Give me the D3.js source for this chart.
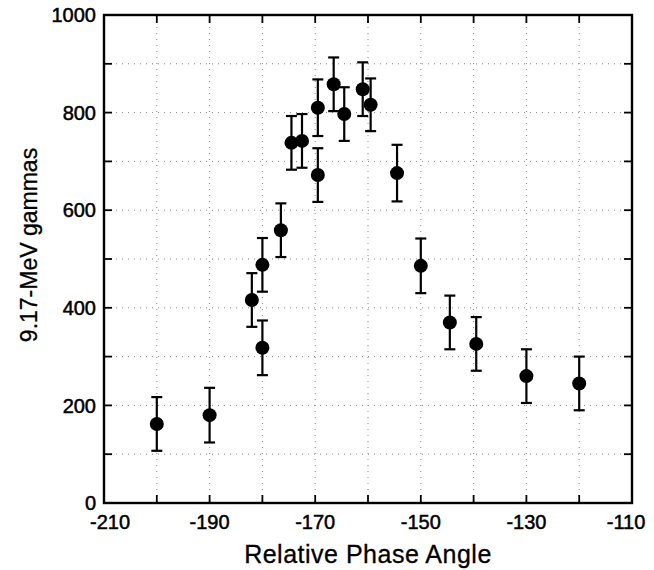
<!DOCTYPE html>
<html>
<head>
<meta charset="utf-8">
<script src="https://cdn.jsdelivr.net/npm/d3@7"></script>
<style>
  body { margin: 0; background: #fff; }
  text { font-family: "Liberation Sans", Arial, sans-serif; fill: #000; }
</style>
</head>
<body>
<svg id="chart" width="654" height="570"></svg>
<script>
// phase angle (deg), counts and error half-widths
var angle = [-200, -190, -182, -180, -180, -176.5, -174.5, -172.5, -169.5, -169.5,
             -166.5, -164.5, -161, -159.5, -154.5, -150, -144.5, -139.5, -130, -120];
var counts = [162, 180, 416, 488, 318, 559, 738, 742, 810, 672,
              858, 797, 848, 816, 676, 486, 370, 326, 260, 245];
var errors = [55, 56, 55, 55, 56, 55, 55, 55, 58, 55,
              55, 55, 55, 54, 58, 56, 55, 55, 55, 55];

var xTicks = d3.range(-210, -109, 10);
var xLabels = [-210, -190, -170, -150, -130, -110];
var yTicks = d3.range(0, 1001, 100);
var yLabels = [0, 200, 400, 600, 800, 1000];

///////////////////////////////////////////////////////////////////////////////

var pLeft = 104, pRight = 632, pTop = 15, pBottom = 503;

var svg = d3.select("#chart");

var x = d3.scaleLinear().domain([-210, -110]).range([pLeft, pRight]);
var y = d3.scaleLinear().domain([0, 1000]).range([pBottom, pTop]);

// dotted grid
var grid = svg.append("g")
  .attr("stroke", "#888")
  .attr("stroke-width", 1)
  .attr("stroke-dasharray", "1,5");

grid.selectAll(".gx")
  .data(xTicks.slice(1, -1))
  .enter().append("line")
  .attr("x1", function (d) { return x(d); })
  .attr("x2", function (d) { return x(d); })
  .attr("y1", pTop)
  .attr("y2", pBottom);

grid.selectAll(".gy")
  .data(yTicks.slice(1, -1))
  .enter().append("line")
  .attr("y1", function (d) { return y(d); })
  .attr("y2", function (d) { return y(d); })
  .attr("x1", pLeft)
  .attr("x2", pRight);

// inward ticks on all four sides
var tickLen = 8;
var ticks = svg.append("g").attr("stroke", "#000").attr("stroke-width", 1.8);

ticks.selectAll(".tb")
  .data(xTicks)
  .enter().append("line")
  .attr("x1", function (d) { return x(d); })
  .attr("x2", function (d) { return x(d); })
  .attr("y1", pBottom)
  .attr("y2", pBottom - tickLen);

ticks.selectAll(".tt")
  .data(xTicks)
  .enter().append("line")
  .attr("x1", function (d) { return x(d); })
  .attr("x2", function (d) { return x(d); })
  .attr("y1", pTop)
  .attr("y2", pTop + tickLen);

ticks.selectAll(".tl")
  .data(yTicks)
  .enter().append("line")
  .attr("y1", function (d) { return y(d); })
  .attr("y2", function (d) { return y(d); })
  .attr("x1", pLeft)
  .attr("x2", pLeft + tickLen);

ticks.selectAll(".tr")
  .data(yTicks)
  .enter().append("line")
  .attr("y1", function (d) { return y(d); })
  .attr("y2", function (d) { return y(d); })
  .attr("x1", pRight)
  .attr("x2", pRight - tickLen);

// frame
svg.append("rect")
  .attr("x", pLeft)
  .attr("y", pTop)
  .attr("width", pRight - pLeft)
  .attr("height", pBottom - pTop)
  .attr("fill", "none")
  .attr("stroke", "#000")
  .attr("stroke-width", 2.4);

// tick labels
svg.selectAll(".xl")
  .data(xLabels)
  .enter().append("text")
  .attr("x", function (d) { return x(d); })
  .attr("dx", function (d, i) { return i === 0 ? 6 : (i === xLabels.length - 1 ? -6 : 0); })
  .attr("y", 529)
  .attr("text-anchor", "middle")
  .attr("font-size", 20)
  .attr("stroke", "#000")
  .attr("stroke-width", 0.5)
  .text(function (d) { return d; });

svg.selectAll(".yl")
  .data(yLabels)
  .enter().append("text")
  .attr("x", pLeft - 8)
  .attr("y", function (d) { return y(d); })
  .attr("dy", "0.36em")
  .attr("text-anchor", "end")
  .attr("font-size", 20)
  .attr("stroke", "#000")
  .attr("stroke-width", 0.5)
  .text(function (d) { return d; });

// axis titles
svg.append("text")
  .attr("x", (pLeft + pRight) / 2)
  .attr("y", 563)
  .attr("text-anchor", "middle")
  .attr("font-size", 25)
  .attr("letter-spacing", 0.5)
  .attr("stroke", "#000")
  .attr("stroke-width", 0.3)
  .text("Relative Phase Angle");

svg.append("text")
  .attr("transform", "translate(37,245) rotate(-90)")
  .attr("text-anchor", "middle")
  .attr("font-size", 23)
  .attr("stroke", "#000")
  .attr("stroke-width", 0.3)
  .text("9.17-MeV gammas");

// error bars and points
var pts = angle.map(function (a, i) {
  return { a: a, c: counts[i], e: errors[i] };
});

var bars = svg.append("g").attr("stroke", "#000").attr("stroke-width", 2.2);
var cap = 5.5;

bars.selectAll(".eb")
  .data(pts)
  .enter().append("line")
  .attr("x1", function (d) { return x(d.a); })
  .attr("x2", function (d) { return x(d.a); })
  .attr("y1", function (d) { return y(d.c - d.e); })
  .attr("y2", function (d) { return y(d.c + d.e); });

bars.selectAll(".ct")
  .data(pts)
  .enter().append("line")
  .attr("x1", function (d) { return x(d.a) - cap; })
  .attr("x2", function (d) { return x(d.a) + cap; })
  .attr("y1", function (d) { return y(d.c + d.e); })
  .attr("y2", function (d) { return y(d.c + d.e); });

bars.selectAll(".cb")
  .data(pts)
  .enter().append("line")
  .attr("x1", function (d) { return x(d.a) - cap; })
  .attr("x2", function (d) { return x(d.a) + cap; })
  .attr("y1", function (d) { return y(d.c - d.e); })
  .attr("y2", function (d) { return y(d.c - d.e); });

svg.append("g").selectAll("circle")
  .data(pts)
  .enter().append("circle")
  .attr("cx", function (d) { return x(d.a); })
  .attr("cy", function (d) { return y(d.c); })
  .attr("r", 7)
  .attr("fill", "#000");
</script>
</body>
</html>
